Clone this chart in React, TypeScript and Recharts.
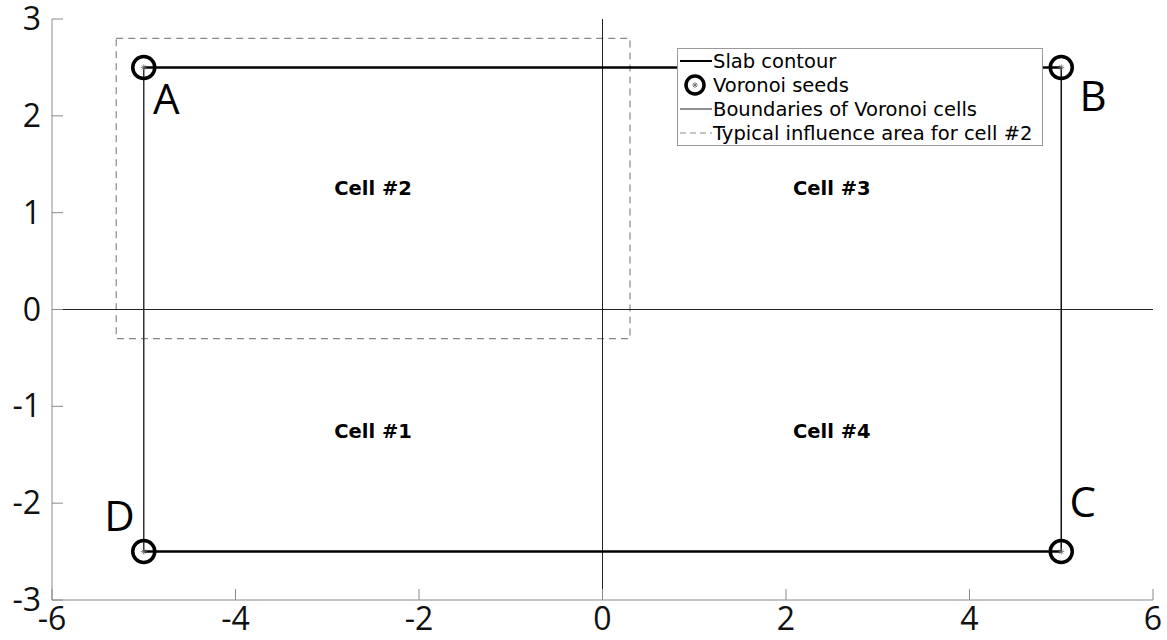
import React from 'react'
import { ScatterChart, Scatter, XAxis, YAxis } from 'recharts'

// axis ticks
const xTicks = [-6, -4, -2, 0, 2, 4, 6]
const yTicks = [-3, -2, -1, 0, 1, 2, 3]

// slab contour (thick top / bottom edges, thin sides)
const slabTop = [{ x: -5, y: 2.5 }, { x: 5, y: 2.5 }]
const slabBottom = [{ x: -5, y: -2.5 }, { x: 5, y: -2.5 }]
const slabLeft = [{ x: -5, y: 2.5 }, { x: -5, y: -2.5 }]
const slabRight = [{ x: 5, y: 2.5 }, { x: 5, y: -2.5 }]

// voronoi cell boundaries
const boundaryV = [{ x: 0, y: -3 }, { x: 0, y: 3 }]
const boundaryH = [{ x: -6, y: 0 }, { x: 6, y: 0 }]

// typical influence area for cell #2
const influence = [
  { x: -5.3, y: 2.8 }, { x: 0.3, y: 2.8 }, { x: 0.3, y: -0.3 },
  { x: -5.3, y: -0.3 }, { x: -5.3, y: 2.8 },
]

// voronoi seeds
const seeds = [
  { x: -5, y: 2.5 }, { x: 5, y: 2.5 }, { x: 5, y: -2.5 }, { x: -5, y: -2.5 },
]

// corner letters (anchor = left edge / baseline)
const cornerLabels = [
  { x: -4.9, y: 2.02, text: 'A' },
  { x: 5.2, y: 2.05, text: 'B' },
  { x: 5.09, y: -2.14, text: 'C' },
  { x: -5.43, y: -2.29, text: 'D' },
]

const cellLabels = [
  { x: -2.5, y: -1.25, text: 'Cell #1' },
  { x: -2.5, y: 1.25, text: 'Cell #2' },
  { x: 2.5, y: 1.25, text: 'Cell #3' },
  { x: 2.5, y: -1.25, text: 'Cell #4' },
]

const AXIS = '#8a8a8a'
const TICK_FONT = '"Open Sans", sans-serif'
const LEGEND_FONT = '"DejaVu Sans", sans-serif'

const NoDot = () => <g />

const BottomTick = ({ x, y, payload }: any) => (
  <g>
    <line x1={x} x2={x} y1={y} y2={y - 11} stroke={AXIS} strokeWidth={1} />
    <text x={x} y={y + 30} textAnchor="middle" fontSize={32} fontFamily={TICK_FONT} fill="#111">
      {payload.value}
    </text>
  </g>
)

const TopTick = ({ x, y }: any) => (
  <line x1={x} x2={x} y1={y} y2={y + 11} stroke={AXIS} strokeWidth={1} />
)

const LeftTick = ({ x, y, payload }: any) => (
  <g>
    <line x1={x} x2={x + 11} y1={y} y2={y} stroke={AXIS} strokeWidth={1} />
    <text x={x - 11} y={y + 11} textAnchor="end" fontSize={32} fontFamily={TICK_FONT} fill="#111">
      {payload.value}
    </text>
  </g>
)

const RightTick = ({ x, y }: any) => (
  <line x1={x} x2={x - 11} y1={y} y2={y} stroke={AXIS} strokeWidth={1} />
)

const SeedMark = ({ cx, cy, r = 11 }: any) => (
  <g>
    <circle cx={cx} cy={cy} r={r} fill="none" stroke="#000" strokeWidth={3.5} />
    <g stroke="#666" strokeWidth={0.8}>
      <line x1={cx - 3} x2={cx + 3} y1={cy} y2={cy} />
      <line x1={cx} x2={cx} y1={cy - 3} y2={cy + 3} />
      <line x1={cx - 2} x2={cx + 2} y1={cy - 2} y2={cy + 2} />
      <line x1={cx - 2} x2={cx + 2} y1={cy + 2} y2={cy - 2} />
    </g>
  </g>
)

const CornerText = ({ cx, cy, payload }: any) => (
  <text x={cx} y={cy} fontSize={42} fontFamily={TICK_FONT} fill="#000">
    {payload.text}
  </text>
)

const CellText = ({ cx, cy, payload }: any) => (
  <text x={cx} y={cy} dy={7} textAnchor="middle" fontSize={19.5} fontWeight="bold" fontFamily={LEGEND_FONT} fill="#000">
    {payload.text}
  </text>
)

const legendRows = [
  { name: 'Slab contour', kind: 'thick' },
  { name: 'Voronoi seeds', kind: 'seed' },
  { name: 'Boundaries of Voronoi cells', kind: 'thin' },
  { name: 'Typical influence area for cell #2', kind: 'dash' },
]

function LegendBox() {
  return (
    <div
      style={{
        position: 'absolute', left: 677, top: 48, width: 366, height: 98,
        border: '1px solid #999', background: '#fff', boxSizing: 'border-box',
        fontFamily: LEGEND_FONT, fontSize: 19.5, color: '#000', paddingTop: 0,
      }}
    >
      {legendRows.map(r => (
        <div key={r.name} style={{ display: 'flex', alignItems: 'center', height: 24 }}>
          <svg width={35} height={24} style={{ flex: 'none' }}>
            {r.kind === 'thick' && <line x1={2} x2={34} y1={12} y2={12} stroke="#000" strokeWidth={2} />}
            {r.kind === 'thin' && <line x1={2} x2={34} y1={12} y2={12} stroke="#222" strokeWidth={1} />}
            {r.kind === 'dash' && <line x1={2} x2={34} y1={12} y2={12} stroke="#888" strokeWidth={1} strokeDasharray="6 4" />}
            {r.kind === 'seed' && <SeedMark cx={17} cy={12} r={9} />}
          </svg>
          <span style={{ whiteSpace: 'nowrap', marginLeft: 0 }}>{r.name}</span>
        </div>
      ))}
    </div>
  )
}

export default function App() {
  return (
    <div style={{ position: 'fixed', left: 0, top: 0, width: 1167, height: 640, background: '#fff' }}>
      <ScatterChart width={1167} height={640} margin={{ top: 19, right: 14, bottom: 0, left: 0 }}>
        <XAxis
          xAxisId="b" type="number" dataKey="x" domain={[-6, 6]} ticks={xTicks} allowDataOverflow
          height={40} tickSize={0} tickMargin={0} tickLine={false} axisLine={{ stroke: AXIS }}
          tick={<BottomTick />} interval={0}
        />
        <XAxis
          xAxisId="t" orientation="top" type="number" dataKey="x" domain={[-6, 6]} ticks={xTicks} allowDataOverflow
          height={0} tickSize={0} tickMargin={0} tickLine={false} axisLine={{ stroke: AXIS }}
          tick={<TopTick />} interval={0}
        />
        <YAxis
          yAxisId="l" type="number" dataKey="y" domain={[-3, 3]} ticks={yTicks} allowDataOverflow
          width={52} tickSize={0} tickMargin={0} tickLine={false} axisLine={{ stroke: AXIS }}
          tick={<LeftTick />} interval={0}
        />
        <YAxis
          yAxisId="r" orientation="right" type="number" dataKey="y" domain={[-3, 3]} ticks={yTicks} allowDataOverflow
          width={0} tickSize={0} tickMargin={0} tickLine={false} axisLine={{ stroke: AXIS }}
          tick={<RightTick />} interval={0}
        />

        <Scatter xAxisId="b" yAxisId="l" data={influence} line={{ stroke: '#888', strokeWidth: 1.2, strokeDasharray: '7 5' }} shape={<NoDot />} isAnimationActive={false} />
        <Scatter xAxisId="b" yAxisId="l" data={boundaryV} line={{ stroke: '#222', strokeWidth: 1 }} shape={<NoDot />} isAnimationActive={false} />
        <Scatter xAxisId="b" yAxisId="l" data={boundaryH} line={{ stroke: '#222', strokeWidth: 1 }} shape={<NoDot />} isAnimationActive={false} />
        <Scatter xAxisId="b" yAxisId="l" data={slabLeft} line={{ stroke: '#333', strokeWidth: 1.5 }} shape={<NoDot />} isAnimationActive={false} />
        <Scatter xAxisId="b" yAxisId="l" data={slabRight} line={{ stroke: '#111', strokeWidth: 1.5 }} shape={<NoDot />} isAnimationActive={false} />
        <Scatter xAxisId="b" yAxisId="l" data={slabTop} line={{ stroke: '#000', strokeWidth: 2.5 }} shape={<NoDot />} isAnimationActive={false} />
        <Scatter xAxisId="b" yAxisId="l" data={slabBottom} line={{ stroke: '#000', strokeWidth: 2.5 }} shape={<NoDot />} isAnimationActive={false} />
        <Scatter xAxisId="b" yAxisId="l" data={seeds} shape={<SeedMark />} isAnimationActive={false} />
        <Scatter xAxisId="b" yAxisId="l" data={cornerLabels} shape={<CornerText />} isAnimationActive={false} />
        <Scatter xAxisId="b" yAxisId="l" data={cellLabels} shape={<CellText />} isAnimationActive={false} />
      </ScatterChart>
      <LegendBox />
    </div>
  )
}
